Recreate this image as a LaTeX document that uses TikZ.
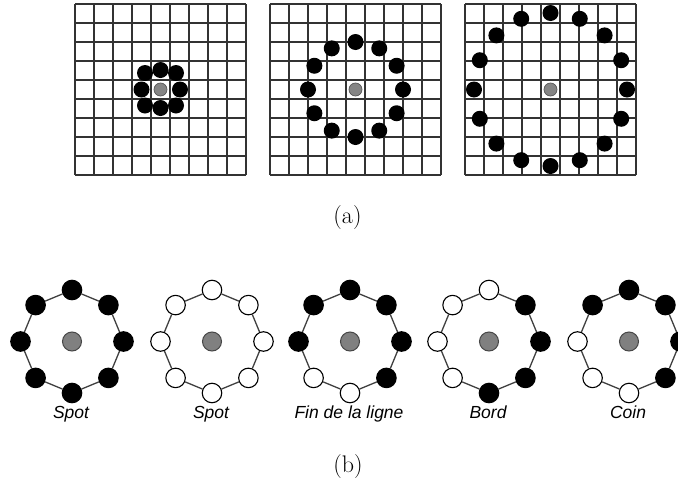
\documentclass[tikz,border=0pt]{standalone}
\usepackage{fontspec}
\newfontfamily\arialf{Liberation Sans}
\begin{document}
\begin{tikzpicture}[x=1pt,y=-1pt,
  gline/.style={draw=black!80, line width=1.3pt},
  gdot/.style={circle, fill=black, inner sep=0pt, minimum size=16pt},
  gcen/.style={circle, fill=black!48, draw=black!65, line width=0.7pt, inner sep=0pt, minimum size=13pt},
  dot/.style={circle, fill=#1, draw=black, line width=1.1pt, inner sep=0pt, minimum size=19.5pt},
  bcen/.style={circle, fill=black!50, draw=black!72, line width=1pt, inner sep=0pt, minimum size=19pt},
  ring/.style={draw=black!75, line width=1.3pt},
  lab/.style={font=\arialf\itshape\fontsize{17.5}{20}\selectfont, anchor=base, inner sep=0pt},
  captext/.style={font=\fontsize{24}{28}\selectfont, inner sep=0pt}]
\clip (0,0) rectangle (678,485);
\fill[white] (0,0) rectangle (678,485);
% grids
\foreach \gx in {75,270,465}{
  \foreach \i in {0,...,9}{
    \draw[gline] (\gx+19*\i,4) -- (\gx+19*\i,175);
    \draw[gline] (\gx,4+19*\i) -- (\gx+171,4+19*\i);
  }
}
% grid 1
\node[gcen] (c1) at (160.5,89.5) {};
\foreach \dx/\dy [count=\k] in {0/-19.5, 15.5/-16.5, 19.5/0, 15.5/16, 0/18.5, -15.5/16, -19/0, -15.5/-16.5}
  \node[gdot] (g1d\k) at ([shift={(\dx,\dy)}]c1) {};
% grid 2
\node[gcen] (c2) at (355.5,89.5) {};
\foreach \a [count=\k] in {0,30,...,330}
  \node[gdot] (g2d\k) at ([shift={(\a:47.5)}]c2) {};
% grid 3
\node[gcen] (c3) at (550.5,89.5) {};
\foreach \a [count=\k] in {0,22.5,...,337.5}
  \node[gdot] (g3d\k) at ([shift={(\a:76.5)}]c3) {};
\node[captext] (capa) at (347.5,218) {(a)};
% bottom patterns
\foreach \cx/\pat/\txt [count=\f] in {
  72/{black,black,black,black,black,black,black,black}/Spot,
  212/{white,white,white,white,white,white,white,white}/Spot,
  350/{black,black,black,black,white,white,black,black}/Fin de la ligne,
  489/{white,black,black,black,black,white,white,white}/Bord,
  629/{black,black,black,black,white,white,white,black}/Coin}{
  \node[bcen] (f\f c) at (\cx,341.5) {};
  \foreach \c [count=\k] in \pat {
    \pgfmathsetmacro\ang{270+45*(\k-1)}
    \node[dot=\c] (f\f d\k) at ([shift={(\ang:51.5)}]f\f c) {};
  }
  \foreach \k in {1,...,8}{
    \pgfmathtruncatemacro\nx{mod(\k,8)+1}
    \draw[ring] (f\f d\k) -- (f\f d\nx);
  }
  \node[lab] (t\f) at (\cx-1,418) {\txt};
}
\node[captext] (capb) at (348,467) {(b)};
\end{tikzpicture}
\end{document}
